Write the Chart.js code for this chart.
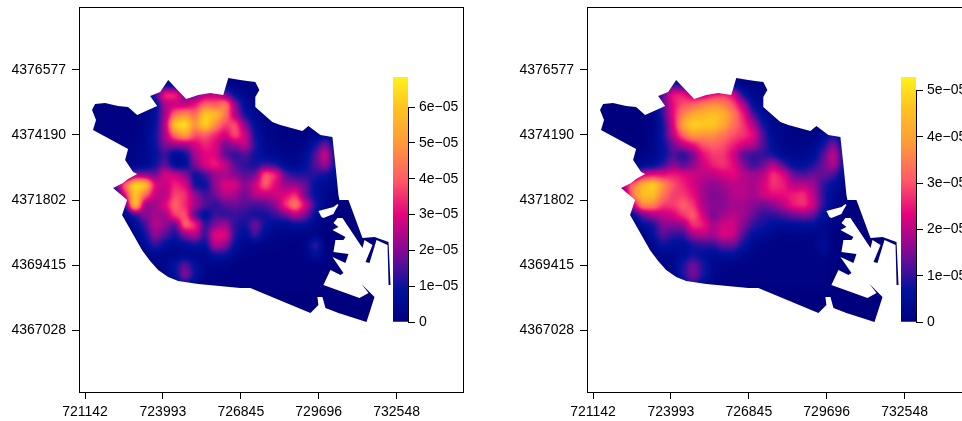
<!DOCTYPE html>
<html>
<head>
<meta charset="utf-8">
<title>Density maps</title>
<script src="https://cdn.jsdelivr.net/npm/chart.js@4"></script>
<style>
  html, body { margin: 0; width: 962px; height: 421px; overflow: hidden; background: #fff; }
  canvas { position: absolute; top: 0; }
</style>
</head>
<body>
<canvas id="map1" width="470" height="421" style="left:0"></canvas>
<canvas id="bar1" width="72" height="421" style="left:393px"></canvas>
<canvas id="map2" width="470" height="421" style="left:508px"></canvas>
<canvas id="bar2" width="72" height="421" style="left:901px"></canvas>
<script>
const xTicks = [721142, 723993, 726845, 729696, 732548]
const yTicks = [4367028, 4369415, 4371802, 4374190, 4376577]
const xRange = [720922, 735015]
const yRange = [4364752, 4378889]

const barTicks1 = [0, 1e-5, 2e-5, 3e-5, 4e-5, 5e-5, 6e-5]
const barLabels1 = ['0', '1e\u221205', '2e\u221205', '3e\u221205', '4e\u221205', '5e\u221205', '6e\u221205']
const barMax1 = 6.84e-5
const barTicks2 = [0, 1e-5, 2e-5, 3e-5, 4e-5, 5e-5]
const barLabels2 = ['0', '1e\u221205', '2e\u221205', '3e\u221205', '4e\u221205', '5e\u221205']
const barMax2 = 5.29e-5

// plasma-like ramp, position 0..1 up the colour bar
const rampAt = [0, 0.13, 0.22, 0.3, 0.44, 0.58, 0.73, 0.88, 1]
const rampColors = ['#00007f', '#00129e', '#4a0f9a', '#8a0892', '#e4037c', '#ff5a66', '#ff9a38', '#ffc51f', '#fff11c']

// grid centres in map units
const gridX = [721509, 721876, 722243, 722610, 722976, 723343, 723710, 724077, 724443, 724810, 725177, 725544, 725910,
  726277, 726644, 727011, 727377, 727744, 728111, 728478, 728845, 729211, 729578, 729945, 730312, 730678]
const gridY = [4376026, 4375659, 4375292, 4374924, 4374557, 4374190, 4373822, 4373455, 4373088, 4372721, 4372353, 4371986,
  4371619, 4371251, 4370884, 4370517, 4370149, 4369782, 4369415, 4369047, 4368680, 4368313, 4367945, 4367578]

// density per cell, in 1e-6, one row per gridY entry (short rows end in background)
const density1 = [
  [0, 0, 0, 0, 0, 0, 0, 8, 6, 0, 0, 0, 0, 3, 2, 2, 2],
  [0, 0, 0, 0, 0, 0, 14, 36, 36, 18, 18, 26, 28, 20, 8, 3, 2],
  [1, 1, 1, 1, 1, 2, 5, 24, 26, 26, 32, 42, 40, 48, 22, 6, 3, 1],
  [1, 1, 1, 1, 1, 3, 8, 22, 44, 50, 42, 64, 60, 46, 24, 10, 5, 2, 1],
  [1, 1, 1, 1, 1, 3, 8, 24, 64, 68, 48, 66, 48, 36, 40, 20, 7, 3, 2, 1, 1, 1, 1],
  [0, 1, 1, 1, 1, 4, 10, 24, 44, 54, 38, 40, 34, 28, 40, 28, 10, 3, 2, 1, 1, 1, 3, 6, 2],
  [0, 0, 1, 1, 2, 4, 10, 20, 22, 22, 28, 34, 30, 18, 22, 28, 12, 4, 3, 2, 2, 3, 10, 20, 6],
  [0, 0, 0, 2, 3, 4, 8, 14, 4, 8, 24, 30, 30, 16, 12, 16, 10, 6, 4, 3, 3, 6, 16, 30, 8],
  [0, 0, 0, 2, 3, 4, 10, 18, 5, 6, 20, 30, 34, 28, 16, 12, 10, 14, 12, 5, 4, 8, 16, 24, 10],
  [0, 0, 0, 4, 22, 20, 18, 30, 28, 22, 8, 14, 22, 24, 20, 16, 18, 42, 36, 16, 12, 12, 12, 10, 6],
  [0, 0, 15, 44, 66, 64, 30, 26, 34, 30, 10, 8, 22, 30, 30, 20, 28, 42, 30, 22, 22, 18, 8, 5, 3],
  [0, 0, 4, 30, 62, 42, 26, 24, 38, 36, 22, 14, 18, 26, 24, 18, 26, 26, 28, 30, 36, 18, 8, 4, 1],
  [0, 0, 0, 12, 66, 20, 22, 30, 42, 34, 24, 16, 12, 16, 18, 16, 14, 16, 20, 36, 48, 30, 12, 3],
  [0, 0, 0, 3, 12, 20, 24, 22, 38, 40, 14, 6, 14, 12, 14, 12, 10, 10, 14, 18, 26, 20, 8, 2],
  [0, 0, 0, 0, 6, 14, 26, 22, 14, 44, 36, 12, 20, 24, 12, 10, 20, 10, 6, 6, 8, 8, 3, 1],
  [0, 0, 0, 0, 2, 10, 22, 16, 10, 20, 26, 12, 32, 32, 12, 6, 16, 6, 3, 2, 2, 2, 3],
  [0, 0, 0, 0, 0, 6, 14, 8, 5, 8, 10, 8, 26, 22, 8, 3, 3, 2, 2, 1, 1, 2, 16],
  [0, 0, 0, 0, 0, 2, 4, 3, 3, 4, 4, 4, 10, 10, 4, 2, 1, 1, 1, 1, 1, 2, 8, 2],
  [0, 0, 0, 0, 0, 1, 2, 4, 10, 18, 8, 3, 3, 2, 1, 1, 1, 1, 1, 1, 1, 1, 1],
  [0, 0, 0, 0, 0, 0, 1, 3, 8, 22, 10, 3, 2, 1, 1, 1, 1, 1, 1, 1, 1, 1, 1],
  [0, 0, 0, 0, 0, 0, 0, 1, 3, 8, 3, 1, 1, 1, 1, 1, 1, 1, 1, 1, 1, 1, 1],
  [],
  [],
  []
]
const density2 = [
  [0, 0, 0, 0, 0, 0, 0, 10, 8, 0, 0, 0, 0, 4, 2, 2, 2],
  [0, 0, 0, 0, 0, 0, 14, 26, 26, 20, 20, 26, 28, 24, 8, 3, 2],
  [0, 0, 0, 0, 0, 2, 12, 24, 30, 32, 36, 38, 36, 30, 20, 6, 3, 1],
  [0, 0, 0, 0, 0, 2, 10, 24, 36, 42, 44, 46, 44, 36, 26, 12, 5, 2, 1],
  [0, 0, 0, 0, 0, 1, 8, 22, 42, 50, 48, 48, 42, 34, 28, 20, 8, 3, 2, 1, 1, 1, 2],
  [0, 0, 0, 0, 0, 2, 8, 20, 32, 40, 38, 38, 34, 30, 28, 24, 12, 4, 2, 1, 1, 1, 4, 8, 2],
  [0, 0, 0, 0, 0, 2, 7, 14, 20, 24, 30, 32, 30, 26, 22, 20, 12, 5, 3, 2, 2, 3, 8, 16, 6],
  [0, 0, 0, 1, 2, 3, 6, 12, 8, 14, 24, 28, 28, 22, 12, 10, 10, 8, 4, 3, 3, 5, 12, 22, 8],
  [0, 0, 0, 2, 4, 5, 10, 16, 12, 16, 22, 26, 28, 24, 16, 10, 14, 20, 12, 6, 6, 9, 14, 20, 8],
  [0, 0, 0, 6, 22, 24, 24, 26, 24, 22, 20, 20, 22, 24, 20, 18, 20, 28, 24, 14, 12, 14, 14, 12, 5],
  [0, 0, 20, 34, 44, 50, 38, 30, 26, 22, 18, 16, 18, 20, 20, 18, 22, 28, 26, 20, 20, 18, 10, 6, 2],
  [0, 0, 10, 36, 46, 46, 34, 28, 28, 24, 18, 15, 16, 20, 20, 18, 22, 24, 24, 26, 28, 20, 10, 4, 1],
  [0, 0, 0, 20, 38, 36, 28, 28, 32, 28, 18, 16, 16, 18, 18, 16, 14, 16, 20, 26, 28, 22, 10, 3],
  [0, 0, 0, 6, 14, 18, 20, 22, 28, 32, 22, 14, 18, 20, 18, 14, 10, 10, 12, 14, 16, 14, 6, 2],
  [0, 0, 0, 0, 6, 8, 16, 16, 16, 28, 26, 18, 22, 22, 16, 10, 8, 6, 5, 6, 6, 6, 3, 1],
  [0, 0, 0, 0, 1, 7, 13, 10, 10, 18, 20, 18, 23, 22, 12, 6, 5, 3, 2, 2, 2, 2, 4],
  [0, 0, 0, 0, 0, 3, 8, 6, 5, 8, 10, 10, 14, 14, 8, 3, 2, 1, 1, 1, 1, 2, 5],
  [0, 0, 0, 0, 0, 1, 3, 3, 5, 8, 6, 4, 6, 6, 3, 2, 1, 1, 1, 1, 1, 1, 3, 1],
  [0, 0, 0, 0, 0, 0, 2, 3, 9, 15, 9, 3, 2, 1, 1, 1, 1, 1, 1, 1, 1, 1, 1],
  [0, 0, 0, 0, 0, 0, 1, 3, 9, 16, 9, 3, 1, 1, 1, 1, 1, 1, 1, 1, 1, 1, 1],
  [0, 0, 0, 0, 0, 0, 0, 1, 4, 9, 4, 1, 1, 1, 1, 1, 1, 1, 1, 1, 1, 1, 1],
  [],
  [],
  []
]

// city boundary in map units
const coastX = [721509, 721875, 722352, 722719, 723049, 723782, 723526, 723892, 724186, 724846, 725286, 725726, 726202,
  726386, 726826, 727082, 727376, 727523, 727376, 727376, 727999, 728293, 729099, 729319, 729759, 730199, 730309, 730419,
  730456, 730786, 731300, 731740, 732253, 732326, 732253, 732216, 731813, 731556, 731410, 731666, 731373, 731300, 730566,
  730383, 730236, 730419, 730199, 730676, 730603, 730309, 730236, 730786, 730676, 730199, 730603, 730493, 730126, 729869,
  731190, 731520, 731263, 731740, 731446, 730419, 729943, 729833, 729649, 729686, 729503, 729393, 727193, 726826, 725286,
  724552, 724186, 723819, 723526, 723232, 722499, 722682, 722169, 722535, 722719, 723049, 722902, 722609, 722719, 721435,
  721545, 721399]
const coastY = [4375328, 4375365, 4375255, 4375218, 4374924, 4375255, 4375622, 4375769, 4376210, 4375512, 4375659, 4375732,
  4375659, 4376283, 4376210, 4376173, 4376136, 4375842, 4375585, 4375218, 4374667, 4374557, 4374336, 4374520, 4374189,
  4374116, 4373088, 4371986, 4371802, 4371802, 4370406, 4370443, 4370259, 4368680, 4368680, 4370149, 4370333, 4369488,
  4369525, 4370149, 4370333, 4370039, 4371141, 4371141, 4370957, 4370810, 4370700, 4370443, 4370333, 4370333, 4369892,
  4369819, 4369488, 4369708, 4369121, 4369047, 4369231, 4368680, 4368202, 4368386, 4368717, 4368239, 4367321, 4367652,
  4367835, 4368239, 4368239, 4367945, 4367762, 4367652, 4368570, 4368570, 4368717, 4368827, 4368974, 4369231, 4369561,
  4369960, 4371251, 4371802, 4372243, 4372426, 4372573, 4372757, 4372830, 4373271, 4373675, 4374373, 4374740, 4375108]
// enclosed basin in the port
const basinX = [730236, 730383, 730419, 730309, 730236, 729869, 729796, 729686]
const basinY = [4371545, 4371655, 4371618, 4371435, 4371288, 4371141, 4371178, 4371398]

const axisFont = { family: '"Liberation Sans", Arial, sans-serif', size: 14 }

const hexToRgb = hex => [1, 3, 5].map(i => parseInt(hex.slice(i, i + 2), 16))

const rampRgb = t => {
  const p = Math.min(Math.max(t, 0), 1)
  let i = 0
  while (i < rampAt.length - 2 && p > rampAt[i + 1]) i++
  const f = (p - rampAt[i]) / (rampAt[i + 1] - rampAt[i])
  const a = hexToRgb(rampColors[i])
  const b = hexToRgb(rampColors[i + 1])
  return a.map((c, k) => Math.round(c + (b[k] - c) * f))
}
const rampTable = Array.from({ length: 256 }, (_, i) => rampRgb(i / 255))

// cells are drawn as grey levels; smooth those, then colour the levels and cut to the boundary
const coastPlugin = {
  id: 'coast',
  afterDatasetsDraw(chart) {
    const { ctx, chartArea: a, scales } = chart
    const left = Math.floor(a.left)
    const top = Math.floor(a.top)
    const w = Math.ceil(a.width)
    const h = Math.ceil(a.height)
    const soft = document.createElement('canvas')
    soft.width = w
    soft.height = h
    const softCtx = soft.getContext('2d')
    softCtx.fillRect(0, 0, w, h)
    softCtx.filter = 'blur(3.5px)'
    softCtx.drawImage(chart.canvas, left, top, w, h, 0, 0, w, h)
    const img = softCtx.getImageData(0, 0, w, h)
    for (let i = 0; i < img.data.length; i += 4) {
      const rgb = rampTable[img.data[i]]
      img.data[i] = rgb[0]
      img.data[i + 1] = rgb[1]
      img.data[i + 2] = rgb[2]
      img.data[i + 3] = 255
    }
    softCtx.filter = 'none'
    softCtx.putImageData(img, 0, 0)

    const path = new Path2D()
    const addRing = (xs, ys) => {
      xs.forEach((x, i) => {
        const px = scales.x.getPixelForValue(x)
        const py = scales.y.getPixelForValue(ys[i])
        if (i === 0) path.moveTo(px, py)
        else path.lineTo(px, py)
      })
      path.closePath()
    }
    addRing(coastX, coastY)
    addRing(basinX, basinY)
    ctx.clearRect(a.left, a.top, a.width, a.height)
    ctx.save()
    ctx.clip(path, 'evenodd')
    ctx.drawImage(soft, left, top)
    ctx.restore()
  },
  afterDraw(chart) {
    const { ctx, chartArea: a } = chart
    ctx.save()
    ctx.strokeStyle = '#000'
    ctx.lineWidth = 1
    ctx.strokeRect(Math.floor(a.left) + 0.5, Math.floor(a.top) + 0.5, Math.round(a.width) - 1, Math.round(a.height))
    ctx.restore()
  }
}

const axisLinePlugin = {
  id: 'axisLine',
  afterDraw(chart) {
    const { ctx, chartArea: a, scales } = chart
    const last = scales.y.ticks[scales.y.ticks.length - 1].value
    ctx.save()
    ctx.strokeStyle = '#000'
    ctx.lineWidth = 1
    ctx.beginPath()
    ctx.moveTo(a.right + 0.5, scales.y.getPixelForValue(0))
    ctx.lineTo(a.right + 0.5, scales.y.getPixelForValue(last))
    ctx.stroke()
    ctx.restore()
  }
}

const drawMap = (id, density, maxValue) => {
  const cells = []
  density.forEach((row, r) => row.forEach((v, c) => cells.push({ x: gridX[c], y: gridY[r], v })))
  new Chart(document.getElementById(id), {
    type: 'scatter',
    data: {
      datasets: [{
        data: cells,
        pointStyle: 'rect',
        pointRadius: 7.3,
        pointBorderWidth: 0,
        pointBackgroundColor: ctx => {
          const level = Math.min(Math.round(ctx.raw.v * 1e-6 / maxValue * 255), 255)
          return `rgb(${level},${level},${level})`
        }
      }]
    },
    options: {
      responsive: false,
      animation: false,
      devicePixelRatio: 1,
      layout: { autoPadding: false, padding: { top: 7, right: 6, left: 0, bottom: 0 } },
      plugins: { legend: { display: false }, tooltip: { enabled: false } },
      scales: {
        x: {
          type: 'linear',
          min: xRange[0],
          max: xRange[1],
          afterBuildTicks: s => { s.ticks = xTicks.map(value => ({ value })) },
          afterFit: s => { s.height = 29; s.paddingLeft = 0; s.paddingRight = 0 },
          border: { display: false },
          grid: { drawOnChartArea: false, tickLength: 7, tickColor: '#000', tickWidth: 1 },
          ticks: { font: axisFont, color: '#000', padding: 5, maxRotation: 0, autoSkip: false, callback: v => String(v) }
        },
        y: {
          type: 'linear',
          min: yRange[0],
          max: yRange[1],
          afterBuildTicks: s => { s.ticks = yTicks.map(value => ({ value })) },
          afterFit: s => { s.width = 79; s.paddingTop = 0; s.paddingBottom = 0 },
          border: { display: false },
          grid: { drawOnChartArea: false, tickLength: 7, tickColor: '#000', tickWidth: 1 },
          ticks: { font: axisFont, color: '#000', padding: 6, autoSkip: false, callback: v => String(v) }
        }
      }
    },
    plugins: [coastPlugin]
  })
}

const drawBar = (id, ticks, labels, maxValue) => {
  new Chart(document.getElementById(id), {
    type: 'bar',
    data: {
      labels: ['density'],
      datasets: [{
        data: [maxValue],
        barPercentage: 1,
        categoryPercentage: 1,
        backgroundColor: ctx => {
          const a = ctx.chart.chartArea
          if (!a) return rampColors[0]
          const g = ctx.chart.ctx.createLinearGradient(0, a.bottom, 0, a.top)
          rampAt.forEach((p, i) => g.addColorStop(p, rampColors[i]))
          return g
        }
      }]
    },
    options: {
      responsive: false,
      animation: false,
      devicePixelRatio: 1,
      layout: { autoPadding: false, padding: { top: 77, bottom: 99, left: 0, right: 0 } },
      plugins: { legend: { display: false }, tooltip: { enabled: false } },
      scales: {
        x: { display: false },
        y: {
          position: 'right',
          min: 0,
          max: maxValue,
          afterBuildTicks: s => { s.ticks = ticks.map(value => ({ value })) },
          afterFit: s => { s.width = 57; s.paddingTop = 0; s.paddingBottom = 0 },
          border: { display: false },
          grid: { drawOnChartArea: false, tickLength: 7, tickColor: '#000', tickWidth: 1 },
          ticks: { font: axisFont, color: '#000', padding: 4, autoSkip: false, callback: (v, i) => labels[i] }
        }
      }
    },
    plugins: [axisLinePlugin]
  })
}

drawMap('map1', density1, barMax1)
drawBar('bar1', barTicks1, barLabels1, barMax1)
drawMap('map2', density2, barMax2)
drawBar('bar2', barTicks2, barLabels2, barMax2)
</script>
</body>
</html>
